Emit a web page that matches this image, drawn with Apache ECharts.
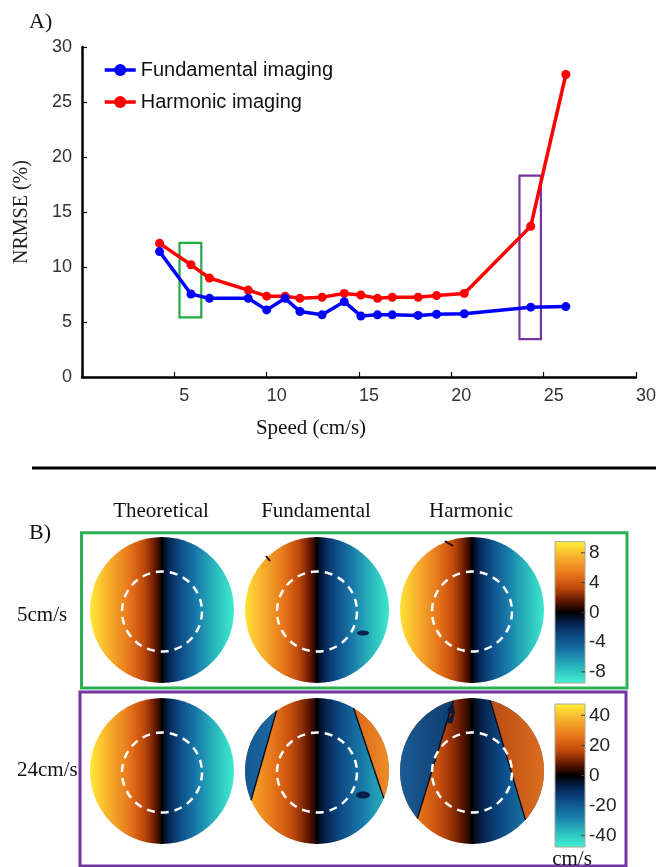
<!DOCTYPE html>
<html><head><meta charset="utf-8">
<script src="https://cdn.jsdelivr.net/npm/echarts@6/dist/echarts.min.js"></script>
<style>html,body{margin:0;padding:0;background:#fff}#c{width:662px;height:867px}</style>
</head><body><div id="c"></div>
<script>
// ---------- data ----------
const speeds      = [4.2, 5.9, 6.9, 9.0, 10.0, 11.0, 11.8, 13.0, 14.2, 15.1, 16.0, 16.8, 18.2, 19.2, 20.7, 24.3, 26.2];
const fundamental = [11.4, 7.55, 7.15, 7.15, 6.1, 7.15, 5.95, 5.65, 6.85, 5.55, 5.65, 5.65, 5.6, 5.7, 5.75, 6.35, 6.4];
const harmonic    = [12.15, 10.2, 9.0, 7.9, 7.35, 7.35, 7.15, 7.25, 7.6, 7.45, 7.15, 7.25, 7.25, 7.4, 7.6, 13.7, 27.5];
const seriesNames = ['Fundamental imaging', 'Harmonic imaging'];
const greenBox  = [[5.28, 12.2], [6.46, 5.42]];
const purpleBox = [[23.69, 18.3], [24.85, 3.45]];
const cbarTicks5  = [-8, -4, 0, 4, 8];
const cbarRange5  = 9.5;
const cbarTicks24 = [-40, -20, 0, 20, 40];
const cbarRange24 = 47.5;
const columnTitles = ['Theoretical', 'Fundamental', 'Harmonic'];
const rowLabels = ['5cm/s', '24cm/s'];

// ---------- styling helpers ----------
const SANS = 'Liberation Sans, Arial, sans-serif';
const SERIF = 'Liberation Serif, "Times New Roman", serif';
const CMAP = [[-1,'#43f2d2'],[-0.8,'#2cc0c0'],[-0.55,'#1878a8'],[-0.35,'#0d4d88'],[-0.15,'#04214d'],[0,'#000000'],
              [0.15,'#5c1500'],[0.35,'#c24a0c'],[0.55,'#e8791c'],[0.8,'#f8b62e'],[1,'#fff23a']];
function hex2rgb(h){return [parseInt(h.slice(1,3),16),parseInt(h.slice(3,5),16),parseInt(h.slice(5,7),16)];}
function cmap(s){
  s = Math.max(-1, Math.min(1, s));
  for (let i = 1; i < CMAP.length; i++) {
    if (s <= CMAP[i][0]) {
      const a = CMAP[i-1][0], b = CMAP[i][0], f = (s-a)/(b-a);
      const A = hex2rgb(CMAP[i-1][1]), B = hex2rgb(CMAP[i][1]);
      return 'rgb(' + A.map((v,k)=>Math.round(v+(B[k]-v)*f)).join(',') + ')';
    }
  }
  return CMAP[CMAP.length-1][1];
}
function fieldGrad(cx, R, vN){
  const stops = [];
  for (let i = 0; i <= 60; i++) {
    const t = i/60, u = 1-2*t;
    stops.push({offset:t, color:cmap(vN*Math.sign(u)*Math.pow(Math.abs(u), 0.75))});
  }
  return {type:'linear', x:cx-R, y:0, x2:cx+R, y2:0, global:true, colorStops:stops};
}
function linGrad(x0, x1, c0, c1){
  return {type:'linear', x:x0, y:0, x2:x1, y2:0, global:true, colorStops:[{offset:0,color:c0},{offset:1,color:c1}]};
}
function ellipsePts(cx, cy, rx, ry){
  const p = []; const n = 144;
  for (let i = 0; i < n; i++) { const a = 2*Math.PI*i/n; p.push([cx+rx*Math.cos(a), cy+ry*Math.sin(a)]); }
  return p;
}
function clipKeep(poly, p1, p2, hint){
  const cr = q => (p2[0]-p1[0])*(q[1]-p1[1]) - (p2[1]-p1[1])*(q[0]-p1[0]);
  const sg = cr(hint) >= 0 ? 1 : -1;
  const side = q => sg*cr(q);
  const out = [];
  for (let i = 0; i < poly.length; i++) {
    const a = poly[i], b = poly[(i+1)%poly.length], sa = side(a), sb = side(b);
    if (sa >= 0) out.push(a);
    if ((sa >= 0) !== (sb >= 0)) { const t = sa/(sa-sb); out.push([a[0]+(b[0]-a[0])*t, a[1]+(b[1]-a[1])*t]); }
  }
  return out;
}
// chord of the ellipse cut by the infinite line through p1,p2
function chord(cx, cy, rx, ry, p1, p2){
  const dx = p2[0]-p1[0], dy = p2[1]-p1[1];
  const ax = (p1[0]-cx)/rx, ay = (p1[1]-cy)/ry, bx = dx/rx, by = dy/ry;
  const A = bx*bx+by*by, B = 2*(ax*bx+ay*by), C = ax*ax+ay*ay-1;
  const D = Math.sqrt(Math.max(0, B*B-4*A*C));
  const t1 = (-B-D)/(2*A), t2 = (-B+D)/(2*A);
  return [[p1[0]+dx*t1, p1[1]+dy*t1], [p1[0]+dx*t2, p1[1]+dy*t2]];
}

// ---------- panel B layout ----------
const COLS = [162, 317, 472], ROWS = [610, 771], RX = 72, RY = 73;
const G = [];
function text(t, x, y, size, family, align){
  align = align || 'center';
  G.push({type:'text', x:x, y:y, z:20, style:{text:t, fontSize:size, fontFamily:family, fill:'#111',
    textAlign:align, align:align, textVerticalAlign:'middle', verticalAlign:'middle'}});
}
function panel(ci, ri, vN, extras){
  const cx = COLS[ci], cy = ROWS[ri];
  G.push({type:'ellipse', z:5, shape:{cx:cx, cy:cy, rx:RX, ry:RY}, style:{fill:fieldGrad(cx, RX, vN)}});
  if (extras) extras(cx, cy);
  G.push({type:'circle', z:9, shape:{cx:cx, cy:cy+1.5, r:40}, style:{fill:null, stroke:'#ffffff', lineWidth:2.5, lineDash:[8,6]}});
}
function wedge(cx, cy, p1, p2, hint, fill){
  G.push({type:'polygon', z:6, shape:{points:clipKeep(ellipsePts(cx,cy,RX,RY), p1, p2, hint)}, style:{fill:fill}});
  const c = chord(cx, cy, RX, RY, p1, p2);
  G.push({type:'polyline', z:7, shape:{points:c}, style:{stroke:'#0a0a18', lineWidth:1.4, fill:null}});
}
// row 1 (5 cm/s)
panel(0, 0, 0.97);
panel(1, 0, 0.95, (cx, cy) => {
  G.push({type:'ellipse', z:7, shape:{cx:363, cy:633, rx:6, ry:2.5}, style:{fill:'#06234f'}});
  G.push({type:'line', z:7, shape:{x1:266, y1:556, x2:270, y2:561}, style:{stroke:'#3a1000', lineWidth:2}});
});
panel(2, 0, 0.95, (cx, cy) => {
  G.push({type:'line', z:7, shape:{x1:445, y1:541, x2:453, y2:546}, style:{stroke:'#200800', lineWidth:2}});
});
// row 2 (24 cm/s)
panel(0, 1, 0.97);
panel(1, 1, 0.78, (cx, cy) => {
  wedge(cx, cy, [279,702], [252,797], [cx-RX+3, cy-20], linGrad(cx-RX, cx-RX*0.4, '#145894', '#1c70aa'));
  wedge(cx, cy, [350.4,699], [385,802], [cx+RX-3, cy], linGrad(cx+RX*0.4, cx+RX, '#d86418', '#ee8a26'));
  G.push({type:'ellipse', z:7, shape:{cx:363, cy:795, rx:7, ry:3.5}, style:{fill:'#05204a'}});
});
panel(2, 1, 0.66, (cx, cy) => {
  wedge(cx, cy, [453.8,699], [417.9,817], [cx-RX+3, cy], linGrad(cx-RX, cx-RX*0.1, '#1a5c95', '#0b3566'));
  wedge(cx, cy, [489.7,699], [525.5,820], [cx+RX-3, cy], linGrad(cx+RX*0.1, cx+RX, '#b04410', '#dc6e20'));
  G.push({type:'polygon', z:7, shape:{points:[[453,702],[447,710],[452,714],[446,722],[452,724],[455,712]]}, style:{fill:'#0a1a3a'}});
});
// frames
G.push({type:'rect', z:10, shape:{x:81.5, y:532.7, width:545.5, height:155.3}, style:{fill:null, stroke:'#2daf55', lineWidth:3}});
G.push({type:'rect', z:10, shape:{x:80, y:692, width:546, height:174}, style:{fill:null, stroke:'#7434a4', lineWidth:3}});
// separator
G.push({type:'line', z:10, shape:{x1:32, y1:468, x2:656, y2:468}, style:{stroke:'#000', lineWidth:3}});
// texts
text('A)', 29, 22, 22, SERIF, 'left');
text('B)', 29, 533, 22, SERIF, 'left');
text('Speed (cm/s)', 311, 428, 21, SERIF);
columnTitles.forEach((t, i) => text(t, COLS[i] - 1, 511, 21, SERIF));
text(rowLabels[0], 17, 615, 21, SERIF, 'left');
text(rowLabels[1], 17, 770, 21, SERIF, 'left');
text('cm/s', 572, 859, 21, SERIF);

// ---------- chart ----------
const chart = echarts.init(document.getElementById('c'), null, {renderer:'canvas'});
const pairs = arr => speeds.map((s, i) => [s, arr[i]]);
function cbarSeries(idx, range, ticks){
  return {type:'custom', xAxisIndex:idx, yAxisIndex:idx, data:[[0.5, 0]], silent:true, z:1,
    renderItem: (params, api) => {
      const tl = api.coord([0, range]), br = api.coord([1, -range]);
      const stops = [];
      for (let i = 0; i <= 40; i++) { const t = i/40; stops.push({offset:t, color:cmap(1-2*t)}); }
      const children = [{type:'rect', shape:{x:tl[0], y:tl[1], width:br[0]-tl[0], height:br[1]-tl[1]},
        style:{fill:{type:'linear', x:0, y:0, x2:0, y2:1, colorStops:stops}, stroke:'#a8a898', lineWidth:1}}];
      ticks.forEach(v => {
        const p = api.coord([1, v]);
        children.push({type:'line', shape:{x1:p[0]-4, y1:p[1], x2:p[0], y2:p[1]}, style:{stroke:'#444', lineWidth:1}});
      });
      return {type:'group', children:children};
    }};
}
function cbarY(idx, range, ticks){
  return {gridIndex:idx, type:'value', min:-range, max:range, position:'right',
    axisLine:{show:false}, splitLine:{show:false}, axisTick:{show:false},
    axisLabel:{customValues:ticks, fontSize:19, fontFamily:SANS, color:'#222', margin:4}};
}
const axisCommon = {
  axisLine:{show:true, lineStyle:{color:'#000', width:2.5}},
  axisTick:{show:true, inside:true, length:5, lineStyle:{color:'#000', width:1.2}},
  splitLine:{show:false}
};
chart.setOption({
  animation:false,
  backgroundColor:'#fff',
  textStyle:{fontFamily:SANS},
  grid:[
    {left:82, top:47, width:554, height:330, outerBoundsMode:'none'},
    {left:555, top:541.7, width:30, height:141.3, outerBoundsMode:'none'},
    {left:555, top:704, width:30, height:143, outerBoundsMode:'none'}
  ],
  legend:{left:98, top:55, orient:'vertical', itemWidth:31, itemHeight:15, itemGap:12, selectedMode:false,
    lineStyle:{width:'inherit'},
    data:seriesNames, textStyle:{fontSize:20, fontFamily:SANS, color:'#111', lineHeight:20}},
  xAxis:[
    Object.assign({gridIndex:0, type:'value', min:0, max:30, interval:5,
      axisLabel:{fontSize:18, fontFamily:SANS, color:'#333', margin:10, padding:[0,0,0,20],
        formatter: v => v === 0 ? '' : String(v)}}, axisCommon),
    {gridIndex:1, type:'value', min:0, max:1, show:false},
    {gridIndex:2, type:'value', min:0, max:1, show:false}
  ],
  yAxis:[
    Object.assign({gridIndex:0, type:'value', min:0, max:30, interval:5,
      name:'NRMSE (%)', nameLocation:'middle', nameGap:50,
      nameTextStyle:{fontFamily:SERIF, fontSize:20, color:'#222'},
      axisLabel:{fontSize:18, fontFamily:SANS, color:'#333', margin:10}}, axisCommon),
    cbarY(1, cbarRange5, cbarTicks5),
    cbarY(2, cbarRange24, cbarTicks24)
  ],
  series:[
    {name:seriesNames[1], type:'line', xAxisIndex:0, yAxisIndex:0, z:2, data:pairs(harmonic),
      symbol:'circle', symbolSize:9, color:'#ff0000', lineStyle:{width:3.5, color:'#ff0000'},
      itemStyle:{color:'#ff0000'},
      markArea:{silent:true, label:{show:false}, itemStyle:{color:'rgba(0,0,0,0)', borderColor:'#7434a4', borderWidth:2.2},
        data:[[{coord:purpleBox[0]}, {coord:purpleBox[1]}]]}},
    {name:seriesNames[0], type:'line', xAxisIndex:0, yAxisIndex:0, z:3, data:pairs(fundamental),
      symbol:'circle', symbolSize:9, color:'#0000ff', lineStyle:{width:3.5, color:'#0000ff'},
      itemStyle:{color:'#0000ff'},
      markArea:{silent:true, label:{show:false}, itemStyle:{color:'rgba(0,0,0,0)', borderColor:'#22aa44', borderWidth:2.2},
        data:[[{coord:greenBox[0]}, {coord:greenBox[1]}]]}},
    cbarSeries(1, cbarRange5, cbarTicks5),
    cbarSeries(2, cbarRange24, cbarTicks24)
  ],
  graphic:{elements:G}
});
</script></body></html>
